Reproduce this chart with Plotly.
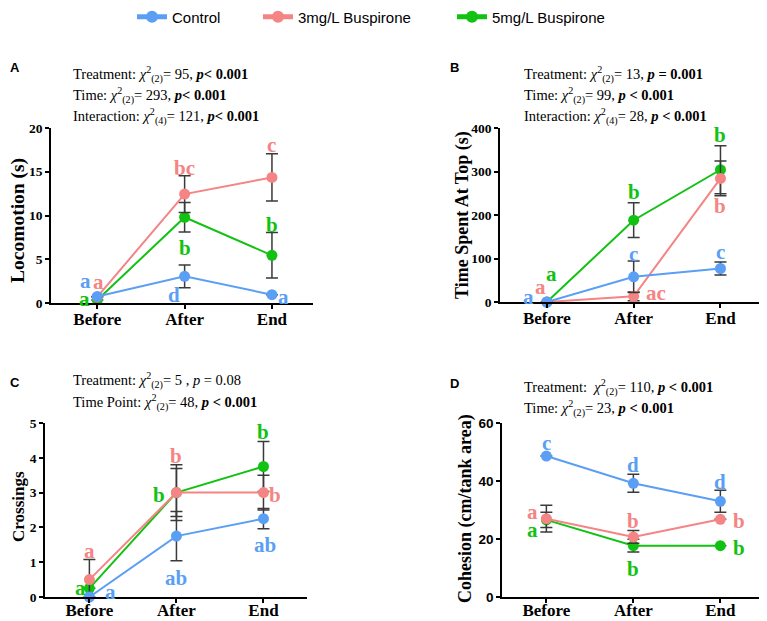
import plotly.graph_objects as go

# ---------------- data ----------------
categories = ["Before", "After", "End"]
series_names = ["Control", "3mg/L Buspirone", "5mg/L Buspirone"]

# Panel A: Locomotion (s)
loco_control = [0.75, 3.05, 0.95]
loco_control_err = [0, 1.3, 0]
loco_3mg = [0.7, 12.45, 14.35]
loco_3mg_err = [0, 2.1, 2.7]
loco_5mg = [0.35, 9.8, 5.45]
loco_5mg_err = [0, 1.7, 2.6]
loco_letters_control = ["a", "d", "a"]
loco_letters_3mg = ["a", "bc", "c"]
loco_letters_5mg = ["a", "b", "b"]

# Panel B: Time spent at top (s)
top_control = [0, 58, 77]
top_control_err = [0, 36, 15]
top_3mg = [0, 13, 284]
top_3mg_err = [0, 10, 40]
top_5mg = [0, 188, 304]
top_5mg_err = [0, 40, 55]
top_letters_control = ["a", "c", "c"]
top_letters_3mg = ["a", "ac", "b"]
top_letters_5mg = ["a", "b", "b"]

# Panel C: Crossings
cross_control = [0, 1.75, 2.25]
cross_control_err = [0, 0.71, 0.29]
cross_3mg = [0.5, 3.0, 3.0]
cross_3mg_err = [0.58, 0.8, 0.5]
cross_5mg = [0.25, 3.0, 3.75]
cross_5mg_err = [0, 0.69, 0.72]
cross_letters_control = ["a", "ab", "ab"]
cross_letters_3mg = ["a", "b", "b"]
cross_letters_5mg = ["a", "b", "b"]

# Panel D: Cohesion (cm/tank area)
coh_control = [48.6, 39.2, 33.0]
coh_control_err = [0, 3.1, 3.8]
coh_3mg = [27.0, 20.7, 26.8]
coh_3mg_err = [4.6, 2.2, 0]
coh_5mg = [26.6, 17.7, 17.7]
coh_5mg_err = [2.6, 2.2, 0]
coh_letters_control = ["c", "d", "d"]
coh_letters_3mg = ["a", "b", "b"]
coh_letters_5mg = ["a", "b", "b"]

y_titles = ["Locomotion (s)", "Time Spent At Top (s)", "Crossings", "Cohesion (cm/tank area)"]
y_ranges = [[0, 20], [0, 400], [0, 5], [0, 60]]
y_dticks = [5, 100, 1, 20]
panel_letters = ["A", "B", "C", "D"]

chi = "<i>χ</i><sup>2</sup>"
stats_A = [
    f"Treatment: {chi}<sub>(2)</sub>= 95, <b><i>p</i>&lt; 0.001</b>",
    f"Time: {chi}<sub>(2)</sub>= 293, <b><i>p</i>&lt; 0.001</b>",
    f"Interaction: {chi}<sub>(4)</sub>= 121, <b><i>p</i>&lt; 0.001</b>",
]
stats_B = [
    f"Treatment: {chi}<sub>(2)</sub>= 13, <b><i>p</i> = 0.001</b>",
    f"Time: {chi}<sub>(2)</sub>= 99, <b><i>p</i> &lt; 0.001</b>",
    f"Interaction: {chi}<sub>(4)</sub>= 28, <b><i>p</i> &lt; 0.001</b>",
]
stats_C = [
    f"Treatment: {chi}<sub>(2)</sub>= 5 , <i>p</i> = 0.08",
    f"Time Point: {chi}<sub>(2)</sub>= 48, <b><i>p</i> &lt; 0.001</b>",
]
stats_D = [
    f"Treatment:  {chi}<sub>(2)</sub>= 110, <b><i>p</i> &lt; 0.001</b>",
    f"Time: {chi}<sub>(2)</sub>= 23, <b><i>p</i> &lt; 0.001</b>",
]

# ---------------- style / layout ----------------
W, H = 767, 621
OFF = 8  # page body margin of the html page
FW, FH = W - OFF, H - OFF
colors = ["#5b9ff5", "#f58484", "#12c212"]
serif = "Liberation Serif"
sans = "Liberation Sans"

def fx(px):
    return (px - OFF) / FW

def fy(py):
    return 1 - (py - OFF) / FH

def px_x(a, b):
    return [fx(a), fx(b)]

def px_y(top, bottom):
    return [fy(bottom), fy(top)]

panels = [
    dict(xd=px_x(51, 313), yd=px_y(128, 303), xr=[-0.53, 2.47], lab_off=-4,
         title_pos=(18, 221), title_size=19.5),
    dict(xd=px_x(500, 763), yd=px_y(128, 302), xr=[-0.54, 2.49], lab_off=-4,
         title_pos=(462, 215), title_size=18),
    dict(xd=px_x(45, 307), yd=px_y(423, 597), xr=[-0.51, 2.5], lab_off=-7,
         title_pos=(18, 507), title_size=17),
    dict(xd=px_x(502, 763), yd=px_y(423, 597), xr=[-0.51, 2.49], lab_off=-7,
         title_pos=(465, 509), title_size=18),
]

panel_data = [
    ([loco_control, loco_3mg, loco_5mg], [loco_control_err, loco_3mg_err, loco_5mg_err],
     [loco_letters_control, loco_letters_3mg, loco_letters_5mg]),
    ([top_control, top_3mg, top_5mg], [top_control_err, top_3mg_err, top_5mg_err],
     [top_letters_control, top_letters_3mg, top_letters_5mg]),
    ([cross_control, cross_3mg, cross_5mg], [cross_control_err, cross_3mg_err, cross_5mg_err],
     [cross_letters_control, cross_letters_3mg, cross_letters_5mg]),
    ([coh_control, coh_3mg, coh_5mg], [coh_control_err, coh_3mg_err, coh_5mg_err],
     [coh_letters_control, coh_letters_3mg, coh_letters_5mg]),
]

# pixel offsets (dx, dy) of significance letters relative to their point, [series][timepoint]
letter_offsets = [
    [[(-12, 17), (-11, -17), (12, 0)], [(1, 17), (0, 28), (0, 34)], [(-13, 3), (0, -29), (0, 32)]],
    [[(-18, 7), (0, 25), (0, 19)], [(-6, 17), (22, 5), (0, -26)], [(5, 30), (0, 30), (0, 37)]],
    [[(21, 7), (0, -40), (2, -24)], [(0, 31), (0, 39), (12, 0)], [(-9, 2), (-17, 0), (0, 37)]],
    [[(0, 15), (0, 20), (0, 21)], [(-14, 9), (0, 18), (19, 0)], [(-14, -8), (0, -21), (19, 0)]],
]

fig = go.Figure()
draw_order = [2, 1, 0]
annotations = []

for p, (vals, errs, letters) in enumerate(panel_data):
    xa = "x" if p == 0 else f"x{p+1}"
    ya = "y" if p == 0 else f"y{p+1}"
    for s in draw_order:
        fig.add_trace(go.Scatter(
            x=categories, y=vals[s], xaxis=xa, yaxis=ya,
            mode="lines+markers", name=series_names[s],
            line=dict(color=colors[s], width=2),
            marker=dict(color=colors[s], size=11),
            error_y=dict(type="data", array=errs[s], visible=True,
                         color="#3a3a3a", thickness=1.5, width=6),
            showlegend=(p == 0),
            legend=["legend", "legend2", "legend3"][s],
            cliponaxis=False,
        ))
        for t in range(3):
            dx, dy = letter_offsets[p][s][t]
            annotations.append(dict(
                x=categories[t], y=vals[s][t], xref=xa, yref=ya,
                text=letters[s][t], showarrow=False,
                xshift=dx, yshift=dy - 2,
                font=dict(family=serif, size=21, color=colors[s], weight="bold"),
            ))

# axes
for p, pn in enumerate(panels):
    sfx = "" if p == 0 else str(p + 1)
    tick_font = (dict(family=sans, size=13.5, color="black", weight="bold") if p == 3
                 else dict(family=serif, size=13.5, color="black", weight="bold"))
    fig.layout[f"xaxis{sfx}"] = dict(
        domain=pn["xd"], range=pn["xr"], anchor=f"y{sfx}", type="category",
        showline=True, linecolor="black", linewidth=1.5,
        ticks="outside", ticklen=4, tickwidth=1.5, tickcolor="black",
        showgrid=False, zeroline=False, automargin=False, ticklabelstandoff=pn["lab_off"],
        tickfont=dict(family=serif, size=17, color="black", weight="bold"),
    )
    fig.layout[f"yaxis{sfx}"] = dict(
        domain=pn["yd"], range=y_ranges[p], dtick=y_dticks[p], anchor=f"x{sfx}",
        showline=True, linecolor="black", linewidth=1.5,
        ticks="outside", ticklen=4, tickwidth=1.5, tickcolor="black",
        showgrid=False, zeroline=False, automargin=False,
        tickfont=tick_font,
    )
    tx, ty = pn["title_pos"]
    annotations.append(dict(
        x=fx(tx), y=fy(ty), xref="paper", yref="paper",
        xanchor="center", yanchor="middle", showarrow=False, textangle=-90,
        text=y_titles[p],
        font=dict(family=serif, size=pn["title_size"], color="black", weight="bold"),
    ))

# stats text blocks
def add_stats(lines, x0, ys):
    for line, yy in zip(lines, ys):
        annotations.append(dict(
            x=fx(x0), y=fy(yy), xref="paper", yref="paper",
            xanchor="left", yanchor="middle", showarrow=False, text=line,
            font=dict(family=serif, size=14.5, color="black"),
        ))

add_stats(stats_A, 71, [74, 95, 117])
add_stats(stats_B, 522, [74, 95, 117])
add_stats(stats_C, 71, [380, 402])
add_stats(stats_D, 522, [387, 408])

for letter, (lx, ly) in zip(panel_letters, [(8, 67), (448, 67), (8, 382), (448, 383)]):
    annotations.append(dict(
        x=fx(lx), y=fy(ly), xref="paper", yref="paper",
        xanchor="left", yanchor="middle", showarrow=False, text=letter,
        font=dict(family=sans, size=13, color="black", weight="bold"),
    ))

legend_style = dict(orientation="h", yanchor="middle", y=fy(17), xanchor="left",
                    font=dict(family=sans, size=15, color="black"),
                    bgcolor="rgba(0,0,0,0)", itemsizing="constant")

fig.update_layout(
    width=FW, height=FH,
    margin=dict(l=0, r=0, t=0, b=0, pad=0, autoexpand=False),
    paper_bgcolor="white", plot_bgcolor="white",
    annotations=annotations,
    legend=dict(legend_style, x=fx(172 - 40)),
    legend2=dict(legend_style, x=fx(298 - 40)),
    legend3=dict(legend_style, x=fx(492 - 40)),
)

fig.write_html("out.html")
